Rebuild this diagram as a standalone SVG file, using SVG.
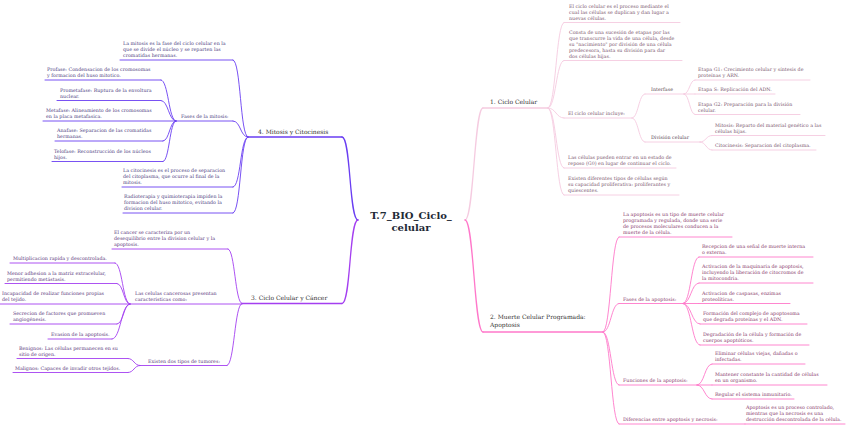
<svg xmlns="http://www.w3.org/2000/svg" width="848" height="428" viewBox="0 0 848 428">
<style>
  text { font-family: "DejaVu Serif", "Liberation Serif", serif; }
  .t { font-size: 4.8px; }
  .lbl { font-size: 6px; fill: #333333; }
  .title { font-size: 10px; font-weight: bold; fill: #1e2a36; }
  .t4 { fill: #4f3f7f; }
  .t3 { fill: #5e3c7e; }
  .t1 { fill: #7d5a70; }
  .t2 { fill: #8a3d6d; }
  .sub1 { fill: #5d4a55; }
  path { fill: none; stroke-linecap: round; }
  .c4 { stroke: #6a3ef2; }
  .c3 { stroke: #a43ff0; }
  .c1 { stroke: #f5cbe0; }
  .c2 { stroke: #ff78ca; }
  .m { stroke-width: 1.3; }
  .s { stroke-width: 0.9; }
</style>
<rect width="848" height="428" fill="#ffffff"/>

<g id="connectors">
  <path class="c4 m" d="M358,220 C349,220 351,137 342,137"/>
  <path class="c4 s" d="M248,137 C240,137 241,60 233,60"/>
  <path class="c4 s" d="M248,137 C240,137 241,121 233,121"/>
  <path class="c4 s" d="M248,137 C240,137 241,187 233,187"/>
  <path class="c4 s" d="M248,137 C240,137 241,213 233,213"/>
  <path class="c4 s" d="M176,121 C168.5,121 168.5,80 161,80"/>
  <path class="c4 s" d="M176,121 C168.5,121 168.5,100.5 161,100.5"/>
  <path class="c4 s" d="M176,121 C169.5,121 169.5,141 163,141"/>
  <path class="c4 s" d="M176,121 C169.5,121 169.5,161.5 163,161.5"/>
  <path class="c3 m" d="M358,220 C349,220 351,303.5 342,303.5"/>
  <path class="c3 s" d="M242,303.5 C235,303.5 235,249 228,249"/>
  <path class="c3 s" d="M242,303.5 C234.5,303.5 234.5,365.5 227,365.5"/>
  <path class="c3 s" d="M130,304 C122.5,304 122.5,263 115,263"/>
  <path class="c3 s" d="M130,304 C123.5,304 123.5,283.5 117,283.5"/>
  <path class="c3 s" d="M130,304 C123.5,304 123.5,324 117,324"/>
  <path class="c3 s" d="M130,304 C121,304 121,339 112,339"/>
  <path class="c3 s" d="M140,365.5 C134,365.5 134,358.5 128,358.5"/>
  <path class="c3 s" d="M140,365.5 C134,365.5 134,372.5 128,372.5"/>
  <path class="c1 m" d="M465,220 C474,220 474,108 483,108"/>
  <path class="c1 s" d="M548,108 C556,108 556,22.5 564,22.5"/>
  <path class="c1 s" d="M548,108 C556,108 556,60.5 564,60.5"/>
  <path class="c1 s" d="M548,108 C556,108 556,118 564,118"/>
  <path class="c1 s" d="M548,108 C556,108 556,168 564,168"/>
  <path class="c1 s" d="M548,108 C556,108 556,195 564,195"/>
  <path class="c1 s" d="M632,118 C638.5,118 638.5,94 645,94"/>
  <path class="c1 s" d="M632,118 C638.5,118 638.5,142 645,142"/>
  <path class="c1 s" d="M684,94 C689.5,94 689.5,80 695,80"/>
  <path class="c1 s" d="M684,94 L695,94"/>
  <path class="c1 s" d="M684,94 C689.5,94 689.5,114.5 695,114.5"/>
  <path class="c1 s" d="M700,142 C706,142 706,135.5 712,135.5"/>
  <path class="c1 s" d="M700,142 C706,142 706,150 712,150"/>
  <path class="c2 m" d="M465,220 C474,220 474,332 483,332"/>
  <path class="c2 s" d="M603,332 C611,332 611,237 619,237"/>
  <path class="c2 s" d="M603,332 C611,332 611,303.5 619,303.5"/>
  <path class="c2 s" d="M603,332 C611,332 611,385 619,385"/>
  <path class="c2 s" d="M603,332 C611,332 611,424 619,424"/>
  <path class="c2 s" d="M683,303.5 C691,303.5 691,257 699,257"/>
  <path class="c2 s" d="M683,303.5 C691,303.5 691,283 699,283"/>
  <path class="c2 s" d="M683,303.5 L699,303.5"/>
  <path class="c2 s" d="M683,303.5 C691.5,303.5 691.5,324 700,324"/>
  <path class="c2 s" d="M683,303.5 C691.5,303.5 691.5,345 700,345"/>
  <path class="c2 s" d="M697,385 C704.5,385 704.5,364 712,364"/>
  <path class="c2 s" d="M697,385 L712,385"/>
  <path class="c2 s" d="M697,385 C704.5,385 704.5,399 712,399"/>
</g>

<g id="center">
  <text class="title" x="411" y="219" text-anchor="middle">T.7_BIO_Ciclo_</text>
  <text class="title" x="411" y="231" text-anchor="middle">celular</text>
</g>

<g id="b4">
  <path class="c4 m" d="M248,137 H342"/>
  <text class="lbl" x="258" y="133.5">4. Mitosis y Citocinesis</text>
</g>
<g id="b4-mitosis">
  <path class="c4 s" d="M120,60 H233"/>
  <text class="t t4"><tspan x="123" y="45.2">La mitosis es la fase del ciclo celular en la</tspan><tspan x="123" y="51.1">que se divide el núcleo y se reparten las</tspan><tspan x="123" y="57">cromatidas hermanas.</tspan></text>
</g>
<g id="b4-fases">
  <path class="c4 s" d="M176,121 H233"/>
  <text class="t t4" x="181" y="118">Fases de la mitosis:</text>
</g>
<g id="b4-profase">
  <path class="c4 s" d="M45,80 H161"/>
  <text class="t t4"><tspan x="47" y="71.1">Profase: Condensacion de los cromosomas</tspan><tspan x="47" y="77">y formacion del huso mitotico.</tspan></text>
</g>
<g id="b4-prometafase">
  <path class="c4 s" d="M57,100.5 H161"/>
  <text class="t t4"><tspan x="60" y="91.6">Prometafase: Ruptura de la envoltura</tspan><tspan x="60" y="97.5">nuclear.</tspan></text>
</g>
<g id="b4-metafase">
  <path class="c4 s" d="M43,121 H176"/>
  <text class="t t4"><tspan x="46" y="112.1">Metafase: Alineamiento de los cromosomas</tspan><tspan x="46" y="118">en la placa metafasica.</tspan></text>
</g>
<g id="b4-anafase">
  <path class="c4 s" d="M55,141 H163"/>
  <text class="t t4"><tspan x="57" y="132.1">Anafase: Separacion de las cromatidas</tspan><tspan x="57" y="138">hermanas.</tspan></text>
</g>
<g id="b4-telofase">
  <path class="c4 s" d="M52,161.5 H163"/>
  <text class="t t4"><tspan x="54" y="152.6">Telofase: Reconstrucción de los núcleos</tspan><tspan x="54" y="158.5">hijos.</tspan></text>
</g>
<g id="b4-citocinesis">
  <path class="c4 s" d="M122,187 H233"/>
  <text class="t t4"><tspan x="123" y="172.2">La citocinesis es el proceso de separacion</tspan><tspan x="123" y="178.1">del citoplasma, que ocurre al final de la</tspan><tspan x="123" y="184">mitosis.</tspan></text>
</g>
<g id="b4-radioterapia">
  <path class="c4 s" d="M123,213 H233"/>
  <text class="t t4"><tspan x="124" y="198.2">Radioterapia y quimioterapia impiden la</tspan><tspan x="124" y="204.1">formacion del huso mitotico, evitando la</tspan><tspan x="124" y="210">division celular.</tspan></text>
</g>

<g id="b3">
  <path class="c3 m" d="M242,303.5 H342"/>
  <text class="lbl" x="251" y="299.5">3. Ciclo Celular y Cáncer</text>
</g>
<g id="b3-cancer">
  <path class="c3 s" d="M112,249 H228"/>
  <text class="t t3"><tspan x="114" y="234.2">El cancer se caracteriza por un</tspan><tspan x="114" y="240.1">desequilibrio entre la division celular y la</tspan><tspan x="114" y="246">apoptosis.</tspan></text>
</g>
<g id="b3-celulas">
  <path class="c3 s" d="M130,304 H242"/>
  <text class="t t3"><tspan x="135" y="295.1">Las celulas cancerosas presentan</tspan><tspan x="135" y="301">caracteristicas como:</tspan></text>
</g>
<g id="b3-multiplicacion">
  <path class="c3 s" d="M10,263 H115"/>
  <text class="t t3" x="13" y="260">Multiplicacion rapida y descontrolada.</text>
</g>
<g id="b3-adhesion">
  <path class="c3 s" d="M5,283.5 H117"/>
  <text class="t t3"><tspan x="7" y="274.6">Menor adhesion a la matriz extracelular,</tspan><tspan x="7" y="280.5">permitiendo metástasis.</tspan></text>
</g>
<g id="b3-incapacidad">
  <path class="c3 s" d="M0,304 H130"/>
  <text class="t t3"><tspan x="2" y="295.1">Incapacidad de realizar funciones propias</tspan><tspan x="2" y="301">del tejido.</tspan></text>
</g>
<g id="b3-secrecion">
  <path class="c3 s" d="M10,324 H117"/>
  <text class="t t3"><tspan x="13" y="315.1">Secrecion de factores que promueven</tspan><tspan x="13" y="321">angiogénesis.</tspan></text>
</g>
<g id="b3-evasion">
  <path class="c3 s" d="M48,339 H112"/>
  <text class="t t3" x="51" y="336">Evasion de la apoptosis.</text>
</g>
<g id="b3-tumores">
  <path class="c3 s" d="M140,365.5 H227"/>
  <text class="t t3" x="148" y="362.5">Existen dos tipos de tumores:</text>
</g>
<g id="b3-benignos">
  <path class="c3 s" d="M17,358.5 H128"/>
  <text class="t t3"><tspan x="19" y="349.6">Benignos: Las células permanecen en su</tspan><tspan x="19" y="355.5">sitio de origen.</tspan></text>
</g>
<g id="b3-malignos">
  <path class="c3 s" d="M13,372.5 H128"/>
  <text class="t t3" x="15" y="369.5">Malignos: Capaces de invadir otros tejidos.</text>
</g>

<g id="b1">
  <path class="c1 m" d="M483,108 H548"/>
  <text class="lbl" x="490" y="104">1. Ciclo Celular</text>
</g>
<g id="b1-def">
  <path class="c1 s" d="M564,22.5 H680"/>
  <text class="t t1"><tspan x="569" y="7.7">El ciclo celular es el proceso mediante el</tspan><tspan x="569" y="13.6">cual las células se duplican y dan lugar a</tspan><tspan x="569" y="19.5">nuevas células.</tspan></text>
</g>
<g id="b1-consta">
  <path class="c1 s" d="M564,60.5 H682"/>
  <text class="t t1"><tspan x="569" y="33.9">Consta de una sucesión de etapas por las</tspan><tspan x="569" y="39.8">que transcurre la vida de una célula, desde</tspan><tspan x="569" y="45.7">su "nacimiento" por división de una célula</tspan><tspan x="569" y="51.6">predecesora, hasta su división para dar</tspan><tspan x="569" y="57.5">dos células hijas.</tspan></text>
</g>
<g id="b1-incluye">
  <path class="c1 s" d="M564,118 H632"/>
  <text class="t t1" x="568" y="115">El ciclo celular incluye:</text>
</g>
<g id="b1-interfase">
  <path class="c1 s" d="M645,94 H684"/>
  <text class="t sub1" x="651" y="91">Interfase</text>
</g>
<g id="b1-g1">
  <path class="c1 s" d="M695,80 H810"/>
  <text class="t t1"><tspan x="698" y="71.1">Etapa G1: Crecimiento celular y síntesis de</tspan><tspan x="698" y="77">proteínas y ARN.</tspan></text>
</g>
<g id="b1-s">
  <path class="c1 s" d="M695,94 H775"/>
  <text class="t t1" x="698" y="91">Etapa S: Replicación del ADN.</text>
</g>
<g id="b1-g2">
  <path class="c1 s" d="M695,114.5 H800"/>
  <text class="t t1"><tspan x="698" y="105.6">Etapa G2: Preparación para la división</tspan><tspan x="698" y="111.5">celular.</tspan></text>
</g>
<g id="b1-division">
  <path class="c1 s" d="M645,142 H700"/>
  <text class="t sub1" x="651" y="139">División celular</text>
</g>
<g id="b1-mitosis">
  <path class="c1 s" d="M712,135.5 H825"/>
  <text class="t t1"><tspan x="715" y="126.6">Mitosis: Reparto del material genético a las</tspan><tspan x="715" y="132.5">células hijas.</tspan></text>
</g>
<g id="b1-citocinesis">
  <path class="c1 s" d="M712,150 H816"/>
  <text class="t t1" x="715" y="147">Citocinesis: Separacion del citoplasma.</text>
</g>
<g id="b1-reposo">
  <path class="c1 s" d="M564,168 H676"/>
  <text class="t t1"><tspan x="568" y="159.1">Las células pueden entrar en un estado de</tspan><tspan x="568" y="165">reposo (G0) en lugar de continuar el ciclo.</tspan></text>
</g>
<g id="b1-tipos">
  <path class="c1 s" d="M564,195 H679"/>
  <text class="t t1"><tspan x="568" y="180.2">Existen diferentes tipos de células según</tspan><tspan x="568" y="186.1">su capacidad proliferativa: proliferantes y</tspan><tspan x="568" y="192">quiescentes.</tspan></text>
</g>

<g id="b2">
  <path class="c2 m" d="M483,332 H603"/>
  <text class="lbl"><tspan x="490" y="318.5">2. Muerte Celular Programada:</tspan><tspan x="490" y="326.5">Apoptosis</tspan></text>
</g>
<g id="b2-def">
  <path class="c2 s" d="M619,237 H732"/>
  <text class="t t2"><tspan x="623" y="216.3">La apoptosis es un tipo de muerte celular</tspan><tspan x="623" y="222.2">programada y regulada, donde una serie</tspan><tspan x="623" y="228.1">de procesos moleculares conducen a la</tspan><tspan x="623" y="234">muerte de la célula.</tspan></text>
</g>
<g id="b2-fases">
  <path class="c2 s" d="M619,303.5 H683"/>
  <text class="t t2" x="623" y="300.5">Fases de la apoptosis:</text>
</g>
<g id="b2-recepcion">
  <path class="c2 s" d="M699,257 H813"/>
  <text class="t t2"><tspan x="702" y="248.1">Recepcion de una señal de muerte interna</tspan><tspan x="702" y="254">o externa.</tspan></text>
</g>
<g id="b2-maquinaria">
  <path class="c2 s" d="M699,283 H813"/>
  <text class="t t2"><tspan x="702" y="268.2">Activacion de la maquinaria de apoptosis,</tspan><tspan x="702" y="274.1">incluyendo la liberación de citocromos de</tspan><tspan x="702" y="280">la mitocondria.</tspan></text>
</g>
<g id="b2-caspasas">
  <path class="c2 s" d="M699,303.5 H790"/>
  <text class="t t2"><tspan x="702" y="294.6">Activacion de caspasas, enzimas</tspan><tspan x="702" y="300.5">proteolíticas.</tspan></text>
</g>
<g id="b2-apoptosoma">
  <path class="c2 s" d="M700,324 H807"/>
  <text class="t t2"><tspan x="703" y="315.1">Formación del complejo de apoptosoma</tspan><tspan x="703" y="321">que degrada proteínas y el ADN.</tspan></text>
</g>
<g id="b2-degradacion">
  <path class="c2 s" d="M700,345 H809"/>
  <text class="t t2"><tspan x="703" y="336.1">Degradación de la célula y formación de</tspan><tspan x="703" y="342">cuerpos apoptóticos.</tspan></text>
</g>
<g id="b2-funciones">
  <path class="c2 s" d="M619,385 H697"/>
  <text class="t t2" x="623" y="382">Funciones de la apoptosis:</text>
</g>
<g id="b2-eliminar">
  <path class="c2 s" d="M712,364 H805"/>
  <text class="t t2"><tspan x="715" y="355.1">Eliminar células viejas, dañadas o</tspan><tspan x="715" y="361">infectadas.</tspan></text>
</g>
<g id="b2-mantener">
  <path class="c2 s" d="M712,385 H827"/>
  <text class="t t2"><tspan x="715" y="376.1">Mantener constante la cantidad de células</tspan><tspan x="715" y="382">en un organismo.</tspan></text>
</g>
<g id="b2-regular">
  <path class="c2 s" d="M712,399 H794"/>
  <text class="t t2" x="715" y="396">Regular el sistema inmunitario.</text>
</g>
<g id="b2-diferencias">
  <path class="c2 s" d="M619,424 H745"/>
  <text class="t t2" x="623" y="421">Diferencias entre apoptosis y necrosis:</text>
</g>
<g id="b2-necrosis">
  <path class="c2 s" d="M745,424 H845"/>
  <text class="t t2"><tspan x="746" y="409.2">Apoptosis es un proceso controlado,</tspan><tspan x="746" y="415.1">mientras que la necrosis es una</tspan><tspan x="746" y="421">destrucción descontrolada de la célula.</tspan></text>
</g>
</svg>
